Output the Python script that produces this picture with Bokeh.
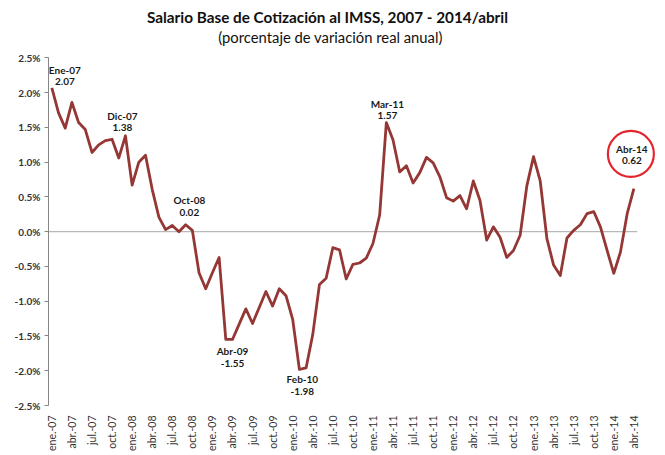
import math
from bokeh.plotting import figure
from bokeh.models import Range1d, FixedTicker, PrintfTickFormatter
from bokeh.embed import file_html
from bokeh.resources import INLINE
from bokeh.core.properties import value

# ---------------- data ----------------
month_index = list(range(88))  # ene-07 ... abr-14
salario_var = [
    2.07, 1.71, 1.49, 1.86, 1.57, 1.47, 1.14, 1.25, 1.31, 1.33, 1.06, 1.38,
    0.67, 1.00, 1.10, 0.61, 0.21, 0.03, 0.09, 0.00, 0.10, 0.02, -0.59, -0.82,
    -0.59, -0.37, -1.55, -1.55, -1.33, -1.11, -1.32, -1.09, -0.86, -1.07, -0.82, -0.92,
    -1.26, -1.98, -1.96, -1.48, -0.76, -0.67, -0.23, -0.26, -0.68, -0.47, -0.45, -0.38,
    -0.17, 0.24, 1.57, 1.32, 0.86, 0.95, 0.70, 0.85, 1.07, 0.99, 0.79, 0.49,
    0.44, 0.52, 0.33, 0.73, 0.45, -0.12, 0.07, -0.08, -0.37, -0.27, -0.05, 0.66,
    1.08, 0.73, -0.10, -0.48, -0.63, -0.09, 0.02, 0.10, 0.26, 0.29, 0.07, -0.27,
    -0.60, -0.29, 0.26, 0.62,
]
tick_positions = list(range(0, 88, 3))
tick_labels = [
    "ene.-07", "abr.-07", "jul.-07", "oct.-07",
    "ene.-08", "abr.-08", "jul.-08", "oct.-08",
    "ene.-09", "abr.-09", "jul.-09", "oct.-09",
    "ene.-10", "abr.-10", "jul.-10", "oct.-10",
    "ene.-11", "abr.-11", "jul.-11", "oct.-11",
    "ene.-12", "abr.-12", "jul.-12", "oct.-12",
    "ene.-13", "abr.-13", "jul.-13", "oct.-13",
    "ene.-14", "abr.-14",
]
y_ticks = [-2.5, -2.0, -1.5, -1.0, -0.5, 0.0, 0.5, 1.0, 1.5, 2.0, 2.5]
y_min, y_max = -2.5, 2.5
ann_index = [0, 11, 21, 27, 37, 50, 87]
ann_month = ["Ene-07", "Dic-07", "Oct-08", "Abr-09", "Feb-10", "Mar-11", "Abr-14"]
highlight_index = 87
title_text = "Salario Base de Cotización al IMSS, 2007 - 2014/abril"
subtitle_text = "(porcentaje de variación real anual)"

# ---------------- styles / layout ----------------
FONT = "Lato"
W, H = 663, 454
BL, BB = 48, 45            # left / bottom borders (px)
TOP_PAD = 58               # px between canvas top and the 2.5% gridline
PLOT_H = H - BB - TOP_PAD  # px spanned by the value axis
PX_PER_MONTH = 6.69
PX_PER_UNIT = PLOT_H / (y_max - y_min)
X0 = -0.5
X1 = X0 + (W - BL) / PX_PER_MONTH
Y1 = y_max + TOP_PAD / PX_PER_UNIT
LINE_COLOR = "#953735"
# per-annotation screen offsets: (dx, dy of month line, dy of value line)
ann_offsets = [(13, -18, -6), (-3, -20, -8), (-3, -30, -18), (0, 12, 24),
               (3, 10, 22), (1, -19, -7), (-2, -40, -28)]

p = figure(width=W, height=H,
           x_range=Range1d(X0, X1), y_range=Range1d(y_min, Y1),
           output_backend="svg", toolbar_location=None, title=None,
           min_border_left=BL, min_border_right=0, min_border_top=0,
           min_border_bottom=BB, background_fill_color="white",
           border_fill_color="white")
p.outline_line_color = None
p.xgrid.visible = False
p.ygrid.visible = False


def px_to_x(px):
    return X0 + (px - BL) / PX_PER_MONTH


def py_to_y(py):
    return y_max + (TOP_PAD - py) / PX_PER_UNIT


# titles
p.text(x=[px_to_x(327)], y=[py_to_y(17)], text=[title_text],
       text_align="center", text_baseline="middle", text_font=value(FONT),
       text_font_size="15.3px", text_font_style="bold", text_color="#111111")
p.text(x=[px_to_x(330)], y=[py_to_y(37)], text=[subtitle_text],
       text_align="center", text_baseline="middle", text_font=value(FONT),
       text_font_size="14.8px", text_font_style="normal", text_color="#111111")

# zero (category axis) line across the category span
p.segment(x0=[month_index[0] - 0.5], y0=[0], x1=[month_index[-1] + 0.5], y1=[0],
          line_color="#A6A6A6", line_width=1)

# main series
p.line(month_index, salario_var, line_color=LINE_COLOR, line_width=2.8,
       line_join="round")

# annotations
for k, (i, m) in enumerate(zip(ann_index, ann_month)):
    dx, dym, dyv = ann_offsets[k]
    v = salario_var[i]
    p.text(x=[i], y=[v], text=[m], x_offset=dx, y_offset=dym,
           text_align="center", text_baseline="middle",
           text_font=value(FONT), text_font_size="10px",
           text_font_style="bold", text_color="#1a1a1a")
    p.text(x=[i], y=[v], text=["%.2f" % v], x_offset=dx, y_offset=dyv,
           text_align="center", text_baseline="middle",
           text_font=value(FONT), text_font_size="10px",
           text_font_style="bold", text_color="#1a1a1a")

# red circle around the last annotation
hx = highlight_index - 3 / PX_PER_MONTH
hy = salario_var[highlight_index] + 35 / PX_PER_UNIT
p.circle(x=[hx], y=[hy], radius=23, radius_units="screen",
         fill_color=None, line_color="#E3262D", line_width=2.2)

# axes
xa = p.xaxis[0]
xa.ticker = FixedTicker(ticks=tick_positions)
xa.major_label_overrides = {t: l for t, l in zip(tick_positions, tick_labels)}
xa.major_label_orientation = math.pi / 2
xa.axis_line_color = None
xa.major_tick_line_color = None
xa.minor_tick_line_color = None
xa.major_label_text_font = FONT
xa.major_label_text_font_size = "10.5px"
xa.major_label_text_color = "#333333"
xa.major_label_standoff = 4

ya = p.yaxis[0]
ya.ticker = FixedTicker(ticks=y_ticks)
ya.bounds = (y_min, y_max)
ya.formatter = PrintfTickFormatter(format="%.1f%%")
ya.axis_line_color = "#868686"
ya.major_tick_line_color = "#868686"
ya.major_tick_out = 4
ya.major_tick_in = 0
ya.minor_tick_line_color = None
ya.major_label_text_font = FONT
ya.major_label_text_font_size = "10px"
ya.major_label_text_font_style = "bold"
ya.major_label_text_color = "#333333"
ya.major_label_standoff = 4

open("out.html", "w").write(file_html(p, INLINE))
